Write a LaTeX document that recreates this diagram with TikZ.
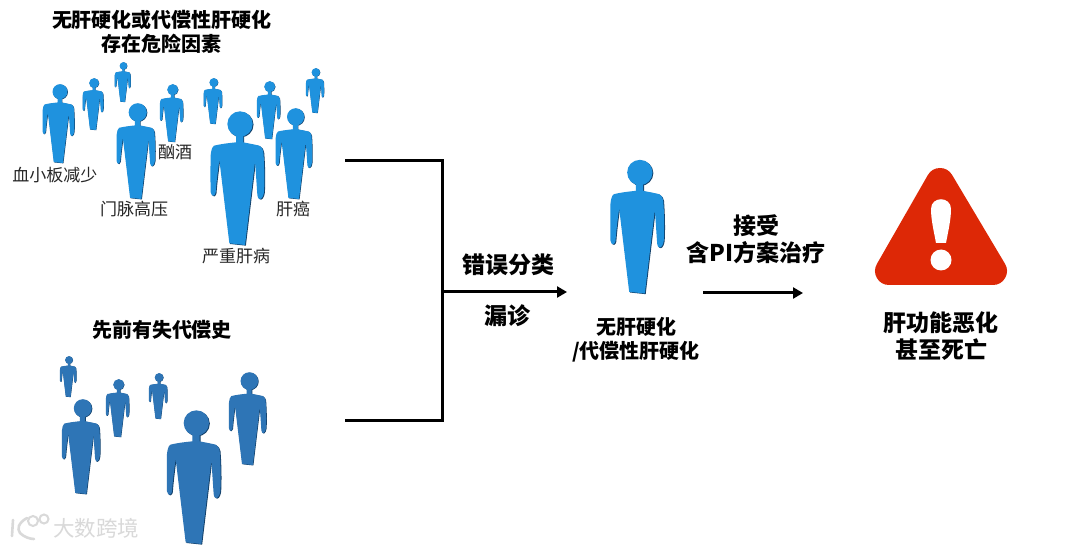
\documentclass[tikz,border=0pt]{standalone}
\usepackage{fontspec}
\setmainfont{Noto Sans CJK SC}
\usetikzlibrary{arrows.meta}
\definecolor{topblue}{HTML}{1F92DE}
\definecolor{lowblue}{HTML}{2E75B6}
\definecolor{edgeblue}{HTML}{123F68}
\definecolor{alarm}{HTML}{DD2806}
\definecolor{marktext}{HTML}{D9D9D9}
\newcommand\personbody{
  (76,70) -- (76,94) .. controls (55,96) and (30,99) .. (10,104)
  .. controls (4,108) and (1,120) .. (0,132)
  .. controls (-1,170) and (-1,210) .. (0,244)
  .. controls (1,252) and (6,256) .. (9,254)
  .. controls (13,252) and (14,248) .. (15,244)
  .. controls (17,215) and (22,175) .. (26,147)
  -- (56,397) -- (103,402) -- (133,152)
  .. controls (136,190) and (138,225) .. (140,252)
  .. controls (141,262) and (146,266) .. (149,264)
  .. controls (155,262) and (159,252) .. (160,242)
  .. controls (162,210) and (161,160) .. (158,122)
  .. controls (157,114) and (152,107) .. (146,104)
  .. controls (130,100) and (112,97) .. (98,94) -- (98,70) -- cycle
}
\newcommand\personhead{(88,39) circle[radius=38]}
\newcommand\person[4]{%
  \pgfmathsetmacro\pscale{#3/402}%
  \begin{scope}[shift={(#1,#2)},x=\pscale pt,y=-\pscale pt]
    \fill[edgeblue] [shift={(2.5,2)}] \personbody;
    \fill[edgeblue] [shift={(2.5,2)}] \personhead;
    \fill[#4] \personbody;
    \fill[#4] \personhead;
  \end{scope}}
\tikzset{
  title/.style={font=\bfseries\fontsize{20}{24}\selectfont,align=center,text=black,inner sep=0pt},
  big/.style={font=\bfseries\fontsize{23}{27}\selectfont,align=center,text=black,inner sep=0pt},
  tag/.style={font=\fontsize{17}{19}\selectfont,text=black!85,inner sep=0pt},
  link/.style={draw=black,line width=3pt},
  flow/.style={draw=black,line width=3pt,-{Triangle[length=10pt,width=11pt]}},
}
\begin{document}
\begin{tikzpicture}[x=1pt,y=-1pt]
\useasboundingbox (0,0) rectangle (1080,548);
\fill[white] (0,0) rectangle (1080,548);
% upper crowd
\person{114.7}{62}{40}{topblue}
\person{82.7}{78}{52}{topblue}
\person{203.7}{78}{46}{topblue}
\person{306}{68}{45}{topblue}
\person{160}{84}{58}{topblue}
\person{257}{81}{58}{topblue}
\person{42.7}{84}{79}{topblue}
\person{116.7}{103}{96}{topblue}
\person{275.7}{108}{91}{topblue}
\person{210.7}{111}{134}{topblue}
% lower crowd
\person{60}{356}{41}{lowblue}
\person{106}{379}{58}{lowblue}
\person{149}{373}{46}{lowblue}
\person{229}{372}{93}{lowblue}
\person{62}{399}{95}{lowblue}
\person{167}{410}{134}{lowblue}
% middle figure
\person{610.5}{159.5}{134}{topblue}
% labels
\node[title] (t1) at (162,32) {无肝硬化或代偿性肝硬化\\存在危险因素};
\node[tag] (l1) at (55,175) {血小板减少};
\node[tag] (l2) at (175,152) {酗酒};
\node[tag] (l3) at (134,209) {门脉高压};
\node[tag] (l4) at (293,209) {肝癌};
\node[tag] (l5) at (236,256) {严重肝病};
\node[title] (t2) at (162,330) {先前有失代偿史};
\node[big] (m1) at (508,265) {错误分类};
\node[big] (m2) at (507,316) {漏诊};
\node[title] (m3) at (636,340) {无肝硬化\\/代偿性肝硬化};
\node[big] (r1) at (756,239.5) {接受\\含PI方案治疗};
\node[big] (r2) at (941,336) {肝功能恶化\\甚至死亡};
% connectors
\coordinate (upper) at (345,161);
\coordinate (lower) at (345,420);
\coordinate (join) at (442,292);
\coordinate (sink) at (567,292);
\coordinate (from) at (703,293);
\coordinate (to) at (803,293);
\draw[link,line join=miter] (upper) -- (442,161) -- (442,420) -- (lower);
\draw[flow] (join) -- (sink);
\draw[flow] (from) -- (to);
% warning sign
\draw[alarm,fill=alarm,line width=28pt,line join=round] (940,182) -- (889,271) -- (993,271) -- cycle;
\fill[white] (931,209) .. controls (931,196) and (951,196) .. (951,209)
  .. controls (951,220) and (948,232) .. (946,243) -- (936,243) .. controls (934,232) and (931,220) .. (931,209) -- cycle;
\fill[white] (941,260) circle[radius=10.5];
% watermark
\node[font=\fontsize{21.5}{24}\selectfont,text=marktext,inner sep=0pt] (wm) at (96,528) {大数跨境};
\draw[marktext,line width=2.6pt,line cap=round] (13,520) -- (12,536) (27,518) .. controls (18,523) and (17,529) .. (20,533) .. controls (24,537) and (30,539) .. (34,539);
\draw[marktext,line width=2pt] (33,521) circle[radius=5] (44,519) circle[radius=4.5];
\end{tikzpicture}
\end{document}
